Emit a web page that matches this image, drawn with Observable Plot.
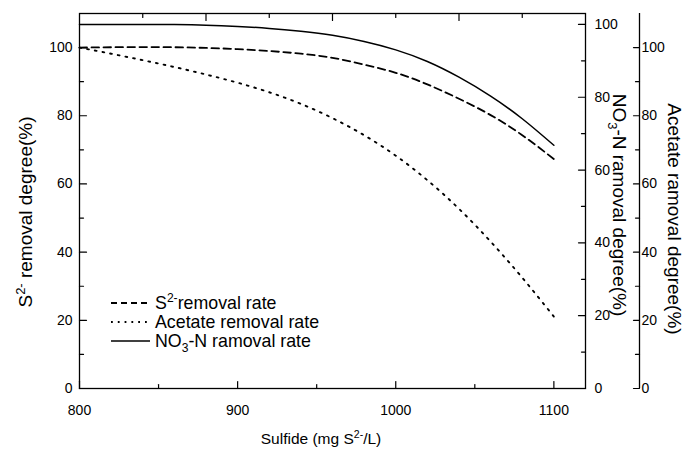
<!DOCTYPE html>
<html><head><meta charset="utf-8">
<script src="https://cdn.jsdelivr.net/npm/d3@7"></script>
<script src="https://cdn.jsdelivr.net/npm/@observablehq/plot@0.6"></script>
<style>
body{margin:0;background:#fff;}
#chart{width:700px;height:452px;}
svg{font-family:"Liberation Sans",Arial,Helvetica,sans-serif;}
</style>
</head><body><div id="chart"></div>
<script>
// ---- data ----
const sulfide        = [800, 820, 840, 860, 880, 900, 920, 940, 960, 980, 1000, 1020, 1040, 1060, 1080, 1100];
const s2Removal      = [100, 100.1, 100.15, 100.1, 99.9, 99.55, 99.0, 98.2, 97.0, 95.0, 92.6, 89.2, 85.0, 80.2, 74.3, 67.3];
const acetateRemoval = [100, 98.2, 96.3, 94.3, 92.1, 89.7, 86.9, 83.5, 79.3, 74.3, 68.3, 61.1, 52.7, 43.1, 32.5, 21.1];
const no3Removal     = [100, 100, 100, 99.95, 99.8, 99.45, 98.9, 98.1, 97.0, 95.3, 93.0, 89.8, 85.5, 80.3, 74.1, 66.8];

const xTickLabels = [800, 900, 1000, 1100];
const xMinorTicks = [850, 950, 1050];
const topMajorTicks = [880, 960, 1040];
const topMinorTicks = [840, 920, 1000, 1080];
const leftTickLabels = [0, 20, 40, 60, 80, 100];
const leftMinorTicks = [10, 30, 50, 70, 90];
const no3TickLabels = [0, 20, 40, 60, 80, 100];
const no3MinorTicks = [10, 30, 50, 70, 90];
const acetateTickLabels = [0, 20, 40, 60, 80, 100];
const acetateMinorTicks = [10, 30, 50, 70, 90];

const X_DOMAIN = [800, 1120];
const Y_DOMAIN = [0, 110];       // S2- and acetate axes
const NO3_DOMAIN = [0, 103];     // NO3-N axis
const k = Y_DOMAIN[1] / NO3_DOMAIN[1];

const mk = (vals) => sulfide.map((x, i) => ({x, y: vals[i]}));
const s2Data = mk(s2Removal);
const acData = mk(acetateRemoval);
const no3Data = mk(no3Removal).map(d => ({x: d.x, y: d.y * k}));

const tickShape = {draw(ctx, l) { ctx.moveTo(0, 0); ctx.lineTo(0, -l); }};
const ink = "#000";
const fs = 14;
const ACET_DX = 54;

function ticks(data, opts) {
  return Plot.vector(data, {anchor: "start", shape: tickShape, stroke: ink, strokeWidth: 1.2, ...opts});
}

const svg = Plot.plot({
  width: 700, height: 452,
  marginLeft: 79, marginRight: 115, marginTop: 13, marginBottom: 64,
  style: {fontFamily: '"Liberation Sans", Arial, sans-serif', fontSize: fs + "px", background: "#fff", color: ink},
  x: {domain: X_DOMAIN},
  y: {domain: Y_DOMAIN},
  marks: [
    Plot.frame({stroke: ink, strokeWidth: 1.3}),
    // curves
    Plot.line(s2Data, {x: "x", y: "y", curve: "natural", stroke: ink, strokeWidth: 1.8, strokeDasharray: "7.5,4.5"}),
    Plot.line(acData, {x: "x", y: "y", curve: "natural", stroke: ink, strokeWidth: 1.9, strokeDasharray: "1.8,6"}),
    Plot.line(no3Data, {x: "x", y: "y", curve: "natural", stroke: ink, strokeWidth: 1.5}),
    // left axis
    ticks(leftTickLabels, {x: () => X_DOMAIN[0], y: d => d, rotate: 90, length: 7}),
    ticks(leftMinorTicks, {x: () => X_DOMAIN[0], y: d => d, rotate: 90, length: 4}),
    Plot.axisY(leftTickLabels, {anchor: "left", tickSize: 0, tickPadding: 7, label: null, fontSize: fs, fill: ink, tickFormat: d => String(d)}),
    // bottom axis
    ticks(xTickLabels, {x: d => d, y: () => Y_DOMAIN[0], rotate: 0, length: 7}),
    ticks(xMinorTicks, {x: d => d, y: () => Y_DOMAIN[0], rotate: 0, length: 4}),
    Plot.axisX(xTickLabels, {anchor: "bottom", tickSize: 0, tickPadding: 17, label: null, fontSize: fs, fill: ink, tickFormat: d => String(d)}),
    // top ticks
    ticks(topMajorTicks, {x: d => d, y: () => Y_DOMAIN[1], rotate: 180, length: 7}),
    ticks(topMinorTicks, {x: d => d, y: () => Y_DOMAIN[1], rotate: 180, length: 4}),
    // NO3-N axis (right frame)
    ticks(no3TickLabels, {x: () => X_DOMAIN[1], y: d => d * k, rotate: 270, length: 7}),
    ticks(no3MinorTicks, {x: () => X_DOMAIN[1], y: d => d * k, rotate: 270, length: 4}),
    Plot.axisY(no3TickLabels.map(d => d * k), {anchor: "right", tickSize: 0, tickPadding: 9, label: null, fontSize: fs, fill: ink, tickFormat: d => String(Math.round(d / k))}),
    // Acetate axis (offset)
    Plot.ruleX([X_DOMAIN[1]], {y1: Y_DOMAIN[0], y2: Y_DOMAIN[1], dx: ACET_DX, stroke: ink, strokeWidth: 1.3}),
    ticks(acetateTickLabels, {x: () => X_DOMAIN[1], y: d => d, dx: ACET_DX, rotate: 270, length: 6}),
    ticks(acetateMinorTicks, {x: () => X_DOMAIN[1], y: d => d, dx: ACET_DX, rotate: 270, length: 4}),
    Plot.axisY(acetateTickLabels, {anchor: "right", dx: ACET_DX, tickSize: 0, tickPadding: 2, label: null, fontSize: fs, fill: ink, tickFormat: d => String(d)})
  ]
});

// ---- titles and legend with super/subscripts ----
const g = d3.select(svg).append("g").attr("fill", ink)
  .style("font-family", '"Liberation Sans", Arial, sans-serif');

function rich(parent, parts, size) {
  const t = parent.append("text").attr("font-size", size);
  let shift = 0;
  for (const [str, kind] of parts) {
    const target = kind === "sup" ? -size * 0.38 : kind === "sub" ? size * 0.28 : 0;
    t.append("tspan")
      .attr("dy", target - shift)
      .attr("font-size", kind ? size * 0.68 : size)
      .text(str);
    shift = target;
  }
  return t;
}

const tFs = 19;
rich(g, [["S"], ["2-", "sup"], [" removal degree(%)"]], tFs)
  .attr("text-anchor", "middle")
  .attr("transform", "translate(32,212) rotate(-90)");
rich(g, [["NO"], ["3", "sub"], ["-N ramoval degree(%)"]], tFs)
  .attr("text-anchor", "middle")
  .attr("transform", "translate(613,205) rotate(90)");
rich(g, [["Acetate ramoval degree(%)"]], tFs)
  .attr("text-anchor", "middle")
  .attr("transform", "translate(668,219) rotate(90)");
rich(g, [["Sulfide (mg S"], ["2-", "sup"], ["/L)"]], 15.5)
  .attr("text-anchor", "middle")
  .attr("transform", "translate(321,444)");

// legend
const legend = [
  {parts: [["S"], ["2-", "sup"], ["removal rate"]], dash: "6,4", w: 1.8},
  {parts: [["Acetate removal rate"]], dash: "1.8,5", w: 1.9},
  {parts: [["NO"], ["3", "sub"], ["-N ramoval rate"]], dash: null, w: 1.5}
];
legend.forEach((d, i) => {
  const cy = 303 + i * 19;
  const line = g.append("line").attr("x1", 111).attr("x2", 150).attr("y1", cy).attr("y2", cy)
    .attr("stroke", ink).attr("stroke-width", d.w);
  if (d.dash) line.attr("stroke-dasharray", d.dash);
  rich(g, d.parts, 17.8).attr("text-anchor", "start").attr("transform", `translate(155,${cy + 6})`);
});

document.getElementById("chart").appendChild(svg);
</script>
</body></html>
